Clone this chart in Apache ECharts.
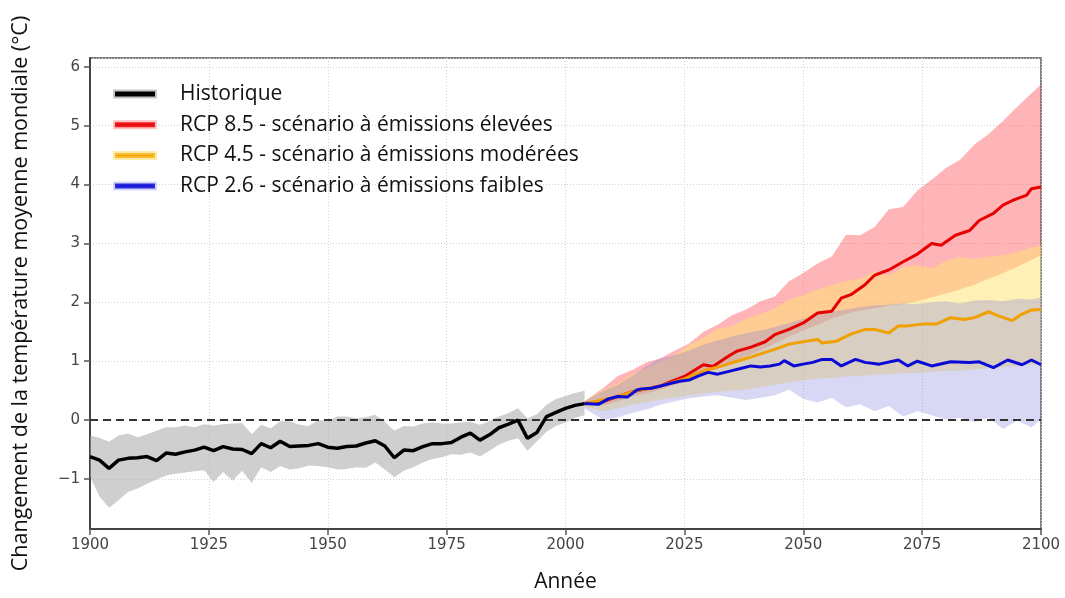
<!DOCTYPE html>
<html>
<head>
<meta charset="utf-8">
<script src="https://cdn.jsdelivr.net/npm/echarts@6/dist/echarts.min.js"></script>
<style>
  html, body { margin: 0; padding: 0; background: #fff; }
  #chart { width: 1065px; height: 598px; }
</style>
</head>
<body>
<div id="chart"></div>
<script>
// historique (moyenne + enveloppe grise)
var histYears = [1900, 1902, 1904, 1906, 1908, 1910, 1912, 1914, 1916, 1918,
  1920, 1922, 1924, 1926, 1928, 1930, 1932, 1934, 1936, 1938,
  1940, 1942, 1944, 1946, 1948, 1950, 1952, 1954, 1956, 1958,
  1960, 1962, 1964, 1966, 1968, 1970, 1972, 1974, 1976, 1978,
  1980, 1982, 1984, 1986, 1988, 1990, 1992, 1994, 1996, 1998,
  2000, 2002, 2004];
var histMean = [-0.62, -0.68, -0.82, -0.68, -0.65, -0.64, -0.62, -0.69, -0.56, -0.58,
  -0.54, -0.51, -0.46, -0.52, -0.45, -0.49, -0.50, -0.57, -0.40, -0.47,
  -0.36, -0.45, -0.44, -0.43, -0.40, -0.46, -0.48, -0.45, -0.44, -0.39,
  -0.35, -0.44, -0.64, -0.51, -0.52, -0.45, -0.40, -0.40, -0.38, -0.29,
  -0.22, -0.34, -0.25, -0.13, -0.07, 0.00, -0.31, -0.21, 0.06, 0.13,
  0.20, 0.25, 0.28];
var histLo = [-0.96, -1.30, -1.49, -1.36, -1.22, -1.16, -1.08, -1.01, -0.94, -0.91,
  -0.89, -0.87, -0.85, -1.05, -0.88, -1.03, -0.86, -1.07, -0.80, -0.88,
  -0.78, -0.84, -0.82, -0.77, -0.78, -0.80, -0.84, -0.83, -0.80, -0.81,
  -0.72, -0.84, -0.97, -0.86, -0.80, -0.72, -0.66, -0.63, -0.58, -0.59,
  -0.55, -0.62, -0.52, -0.42, -0.35, -0.31, -0.52, -0.36, -0.20, -0.10,
  -0.04, 0.04, 0.08];
var histHi = [-0.26, -0.30, -0.37, -0.26, -0.23, -0.29, -0.24, -0.18, -0.12, -0.12,
  -0.09, -0.12, -0.07, -0.09, -0.07, -0.06, -0.05, -0.24, -0.08, -0.14,
  -0.02, -0.02, -0.08, -0.10, 0.00, -0.02, 0.06, 0.06, 0.03, 0.05,
  0.09, -0.03, -0.18, -0.10, -0.11, -0.06, -0.04, -0.06, -0.06, -0.04,
  -0.03, -0.08, -0.02, 0.06, 0.12, 0.20, 0.03, 0.10, 0.26, 0.36,
  0.41, 0.46, 0.50];

// enveloppes des projections
var projYears = [2004, 2008, 2011, 2014, 2017, 2020, 2023, 2026, 2029, 2032,
  2035, 2038, 2041, 2044, 2047, 2050, 2053, 2056, 2059, 2062,
  2065, 2068, 2071, 2074, 2077, 2080, 2083, 2086, 2089, 2092,
  2095, 2098, 2100];
var rcp85Lo = [0.24, 0.25, 0.32, 0.40, 0.45, 0.52, 0.60, 0.68, 0.78, 0.88,
  0.98, 1.08, 1.18, 1.30, 1.42, 1.52, 1.62, 1.72, 1.80, 1.86,
  1.90, 1.94, 1.97, 2.02, 2.08, 2.15, 2.22, 2.30, 2.40, 2.50,
  2.60, 2.72, 2.80];
var rcp85Hi = [0.32, 0.55, 0.75, 0.85, 0.98, 1.05, 1.18, 1.30, 1.50, 1.62,
  1.78, 1.88, 2.02, 2.10, 2.36, 2.50, 2.66, 2.78, 3.15, 3.14,
  3.28, 3.58, 3.62, 3.90, 4.08, 4.28, 4.42, 4.68, 4.86, 5.08,
  5.32, 5.55, 5.70];
var rcp45Lo = [0.22, 0.15, 0.20, 0.26, 0.30, 0.35, 0.38, 0.42, 0.45, 0.48,
  0.50, 0.52, 0.56, 0.60, 0.64, 0.68, 0.70, 0.72, 0.74, 0.75,
  0.77, 0.78, 0.80, 0.80, 0.82, 0.84, 0.84, 0.86, 0.88, 0.90,
  0.92, 0.94, 0.95];
var rcp45Hi = [0.32, 0.52, 0.62, 0.78, 0.88, 1.00, 1.10, 1.28, 1.40, 1.55,
  1.60, 1.72, 1.80, 1.90, 2.05, 2.12, 2.22, 2.30, 2.36, 2.40,
  2.52, 2.46, 2.60, 2.62, 2.58, 2.70, 2.77, 2.74, 2.78, 2.80,
  2.86, 2.93, 2.97];
var rcp26Lo = [0.20, 0.00, 0.05, 0.12, 0.18, 0.26, 0.32, 0.37, 0.40, 0.42,
  0.38, 0.34, 0.38, 0.42, 0.52, 0.36, 0.30, 0.38, 0.22, 0.27,
  0.15, 0.24, 0.06, 0.15, 0.08, 0.01, 0.04, -0.03, 0.04, -0.15,
  -0.01, -0.12, 0.01];
var rcp26Hi = [0.32, 0.50, 0.60, 0.75, 0.92, 1.05, 1.10, 1.18, 1.28, 1.35,
  1.42, 1.48, 1.52, 1.58, 1.65, 1.72, 1.80, 1.84, 1.88, 1.92,
  1.95, 1.96, 1.98, 1.97, 2.00, 2.02, 1.98, 2.03, 2.04, 2.02,
  2.06, 2.05, 2.08];

// moyennes des projections
var rcp85Years = [2004, 2008, 2011, 2014, 2017, 2020, 2022, 2025, 2029, 2031,
  2034, 2036, 2039, 2042, 2044, 2047, 2050, 2053, 2056, 2058,
  2060, 2063, 2065, 2068, 2071, 2074, 2077, 2079, 2082, 2085,
  2087, 2090, 2092, 2094, 2095, 2097, 2098, 2100];
var rcp85Mean = [0.28, 0.32, 0.40, 0.48, 0.53, 0.58, 0.65, 0.74, 0.94, 0.91,
  1.07, 1.17, 1.24, 1.33, 1.45, 1.54, 1.65, 1.82, 1.85, 2.07,
  2.13, 2.30, 2.46, 2.55, 2.69, 2.82, 3.00, 2.97, 3.14, 3.22,
  3.39, 3.51, 3.65, 3.73, 3.76, 3.82, 3.93, 3.96];
var rcp45Years = [2004, 2010, 2015, 2020, 2025, 2028, 2030, 2033, 2036, 2039,
  2042, 2044, 2047, 2050, 2053, 2054, 2057, 2060, 2063, 2065,
  2068, 2070, 2072, 2075, 2078, 2081, 2084, 2086, 2089, 2091,
  2094, 2096, 2098, 2100];
var rcp45Mean = [0.28, 0.38, 0.50, 0.58, 0.70, 0.80, 0.86, 0.92, 1.00, 1.07,
  1.15, 1.20, 1.29, 1.33, 1.37, 1.31, 1.34, 1.46, 1.54, 1.54,
  1.48, 1.60, 1.60, 1.63, 1.63, 1.74, 1.71, 1.74, 1.84, 1.77,
  1.69, 1.80, 1.87, 1.88];
var rcp26Years = [2004, 2007, 2009, 2011, 2013, 2015, 2016, 2018, 2020, 2022,
  2024, 2026, 2028, 2030, 2032, 2035, 2037, 2039, 2041, 2043,
  2045, 2046, 2048, 2050, 2052, 2054, 2056, 2058, 2061, 2063,
  2066, 2070, 2072, 2074, 2077, 2081, 2085, 2087, 2090, 2093,
  2096, 2098, 2100];
var rcp26Mean = [0.28, 0.27, 0.36, 0.40, 0.39, 0.51, 0.53, 0.54, 0.58, 0.62,
  0.66, 0.68, 0.75, 0.81, 0.78, 0.84, 0.88, 0.92, 0.90, 0.92,
  0.95, 1.01, 0.92, 0.95, 0.98, 1.03, 1.03, 0.92, 1.03, 0.98,
  0.95, 1.02, 0.92, 1.00, 0.92, 0.99, 0.98, 0.99, 0.89, 1.02,
  0.94, 1.02, 0.94];

var yTicks = [-1, 0, 1, 2, 3, 4, 5, 6];

function pairs(xs, ys) {
  return xs.map(function (x, i) { return [x, ys[i]]; });
}
function triples(xs, lo, hi) {
  return xs.map(function (x, i) { return [x, lo[i], hi[i]]; });
}

// one polygon per band, drawn once from all points
function bandRenderer(fill) {
  return function (params, api) {
    if (params.dataIndexInside !== 0) return;
    var n = params.dataInsideLength;
    var top = [], bot = [];
    for (var i = 0; i < n; i++) {
      top.push(api.coord([api.value(0, i), api.value(2, i)]));
      bot.push(api.coord([api.value(0, i), api.value(1, i)]));
    }
    return {
      type: 'polygon',
      shape: { points: top.concat(bot.reverse()) },
      style: { fill: fill }
    };
  };
}

function band(name, xs, lo, hi, fill, z) {
  return {
    name: name,
    type: 'custom',
    renderItem: bandRenderer(fill),
    data: triples(xs, lo, hi),
    encode: { x: 0, y: [1, 2] },
    silent: true,
    z: z
  };
}

function line(name, xs, ys, color, width, z) {
  return {
    name: name,
    type: 'line',
    data: pairs(xs, ys),
    showSymbol: false,
    symbol: 'none',
    lineStyle: { color: color, width: width },
    itemStyle: { color: color },
    emphasis: { disabled: true },
    z: z
  };
}

var font = '"Open Sans", "DejaVu Sans", sans-serif';
var tickFont = '"DejaVu Sans", sans-serif';
var gridLine = { show: true, lineStyle: { color: '#d2d2d2', type: [1, 2], width: 1 } };

var chart = echarts.init(document.getElementById('chart'));

var hist = line('Historique', histYears, histMean, '#000', 3.5, 8);
hist.markLine = {
  silent: true,
  symbol: ['none', 'none'],
  label: { show: false },
  lineStyle: { color: '#333', width: 2, type: [8, 5] },
  data: [{ yAxis: 0 }],
  animation: false
};

chart.setOption({
  animation: false,
  grid: {
    left: 90, right: 24, top: 58, bottom: 66,
    show: true, borderColor: '#555', borderWidth: 1.5, backgroundColor: '#fff'
  },
  legend: {
    orient: 'vertical',
    left: 108,
    top: 77,
    icon: 'rect',
    itemWidth: 40,
    itemHeight: 5,
    itemGap: 6.7,
    selectedMode: false,
    textStyle: {
      fontFamily: font, fontSize: 21, color: '#111',
      lineHeight: 24, padding: [0, 0, 0, 20]
    },
    data: [
      { name: 'Historique', itemStyle: { color: '#000', borderColor: 'rgba(0,0,0,0.22)', borderWidth: 4 } },
      { name: 'RCP 8.5 - scénario à émissions élevées', itemStyle: { color: '#e60000', borderColor: 'rgba(255,80,90,0.35)', borderWidth: 4 } },
      { name: 'RCP 4.5 - scénario à émissions modérées', itemStyle: { color: '#f0a000', borderColor: 'rgba(255,215,90,0.5)', borderWidth: 4 } },
      { name: 'RCP 2.6 - scénario à émissions faibles', itemStyle: { color: '#0a0ad6', borderColor: 'rgba(120,120,240,0.3)', borderWidth: 4 } }
    ]
  },
  xAxis: {
    type: 'value',
    min: 1900,
    max: 2100,
    interval: 25,
    name: 'Année',
    nameLocation: 'middle',
    nameGap: 43,
    nameTextStyle: { fontFamily: font, fontSize: 21, color: '#111' },
    axisLine: { show: true, onZero: false, lineStyle: { color: '#444', width: 2 } },
    axisTick: { show: true, length: 6, lineStyle: { color: '#555', width: 1.5 } },
    axisLabel: {
      fontFamily: tickFont, fontSize: 15, color: '#444', margin: 9,
      formatter: function (v) { return String(v); }
    },
    splitLine: gridLine
  },
  yAxis: {
    type: 'value',
    min: -1.85,
    max: 6.15,
    splitNumber: 8,
    name: 'Changement de la température moyenne mondiale (°C)',
    nameLocation: 'middle',
    nameGap: 58,
    nameTextStyle: { fontFamily: font, fontSize: 21.5, color: '#111' },
    axisLine: { show: true, onZero: false, lineStyle: { color: '#444', width: 2 } },
    axisTick: { show: true, length: 6, lineStyle: { color: '#555', width: 1.5 } },
    axisLabel: {
      fontFamily: tickFont, fontSize: 15, color: '#444', margin: 10,
      showMinLabel: false, showMaxLabel: false,
      formatter: function (v) {
        if (yTicks.indexOf(v) < 0) return '';
        return v < 0 ? '\u2212' + Math.abs(v) : String(v);
      }
    },
    splitLine: gridLine
  },
  series: [
    band('bande RCP 8.5', projYears, rcp85Lo, rcp85Hi, 'rgba(255,80,90,0.43)', 1),
    band('bande RCP 4.5', projYears, rcp45Lo, rcp45Hi, 'rgba(255,228,110,0.5)', 2),
    band('bande RCP 2.6', projYears, rcp26Lo, rcp26Hi, 'rgba(125,125,220,0.3)', 3),
    band('bande historique', histYears, histLo, histHi, 'rgba(160,160,160,0.5)', 4),
    line('RCP 8.5 - scénario à émissions élevées', rcp85Years, rcp85Mean, '#e60000', 3, 5),
    line('RCP 4.5 - scénario à émissions modérées', rcp45Years, rcp45Mean, '#f0a000', 3, 6),
    line('RCP 2.6 - scénario à émissions faibles', rcp26Years, rcp26Mean, '#0a0ad6', 3, 7),
    hist
  ]
});
</script>
</body>
</html>
